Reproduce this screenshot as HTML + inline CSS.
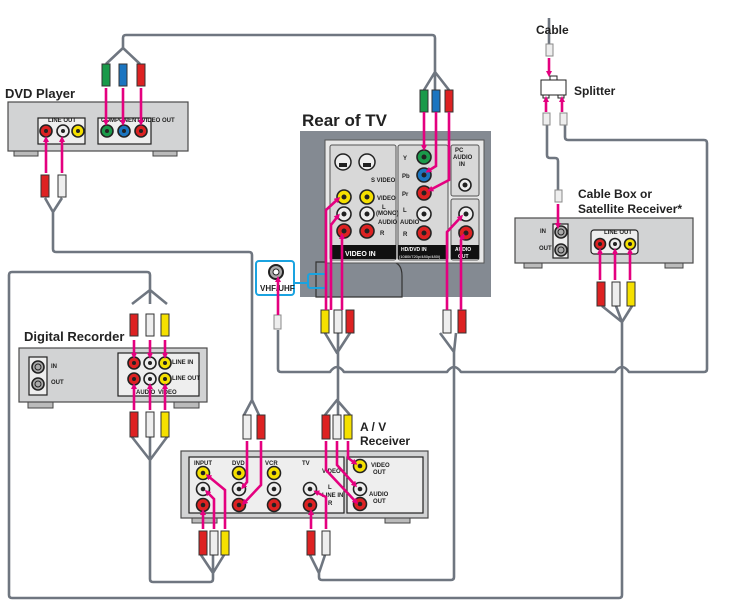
<!DOCTYPE html>
<html><head><meta charset="utf-8"><style>
body{margin:0;background:#fff}
svg{display:block}
text{font-family:"Liberation Sans",sans-serif}
.c{fill:none;stroke:#6f7680;stroke-width:2.6;stroke-linejoin:round}
.m{stroke:#e4007f;stroke-width:2.6;fill:none}
.box{fill:#d2d3d4;stroke:#4a4a4a;stroke-width:1.2}
.pn{fill:#eeeeee;stroke:#222;stroke-width:1.2}
.t{font-weight:bold;fill:#222}
.s{font-size:6px;font-weight:bold;fill:#222}
</style></head><body>
<svg width="743" height="613" viewBox="0 0 743 613" xmlns="http://www.w3.org/2000/svg">
<defs>
<marker id="a" markerWidth="6" markerHeight="6" refX="3" refY="3" orient="auto" markerUnits="userSpaceOnUse"><path d="M0,0 L6,3 L0,6z" fill="#e4007f"/></marker>
</defs>

<path class="c" d="M106,64 L123,48 L140,64 M123,48 V38 Q123,35 126,35 H432 Q435,35 435,38 V72 M424,90 L435,72 L449,90 M435,72 V90"/>
<path class="c" d="M45,198 L53,212 L62,198 M53,212 V249 Q53,252 56,252 H249 Q252,252 252,255 V400 M244,415 L252,400 L259,415"/>
<path class="c" d="M132,304 L150,290 L167,304 M150,290 V275 Q150,272 147,272 H12 Q9,272 9,275 V595 Q9,598 12,598 H619 Q622,598 622,595 V322 M602,306 L622,322 L632,306 M616,306 L622,322"/>
<path class="c" d="M150,304 V290"/>
<path class="c" d="M132,437 L150,460 L167,437 M150,437 V460 V579 Q150,582 153,582 H210 Q213,582 213,579 V573 M201,555 L213,573 L224,555 M213,555 V573"/>
<path class="c" d="M440,333 L454,352 L456,333 M454,352 V577 Q454,580 451,580 H322 Q319,580 319,577 V573 M310,555 L319,573 L325,555"/>
<path class="c" d="M325,333 L337,353 L350,333 M338,333 V400 M325,415 L337,400 L350,415 M338,415 V400"/>
<path class="c" d="M278,330 V369 Q278,372 281,372 H330 Q337,362 344,372 H447 Q454,362 461,372 H615 Q622,362 629,372 H704 Q707,372 707,369 V143 Q707,140 704,140 H568 Q565,140 565,137 V125"/>
<path class="c" d="M547,125 V155 Q547,158 550,158 H555 Q558,158 558,161 V190"/>
<path class="c" d="M549,18 V45"/>

<text class="t" x="5" y="98" font-size="13">DVD Player</text>
<rect x="14" y="150" width="24" height="6" fill="#bbb" stroke="#444"/>
<rect x="153" y="150" width="24" height="6" fill="#bbb" stroke="#444"/>
<rect class="box" x="8" y="102" width="180" height="49"/>
<rect class="pn" x="38" y="118" width="47" height="26"/>
<rect class="pn" x="98" y="118" width="53" height="26"/>
<text class="s" x="48" y="122" font-size="4">LINE OUT</text>
<text class="s" x="101" y="122" font-size="4">COMPONENT VIDEO OUT</text>

<text class="t" x="302" y="126" font-size="17">Rear of TV</text>
<rect x="300" y="131" width="191" height="166" fill="#848a92"/>
<path d="M316,262 H391 Q402,262 402,276 V297 H316z" fill="none" stroke="#333" stroke-width="1.2"/>
<rect x="325" y="140" width="159" height="123" fill="#e8e8e8" stroke="#555"/>
<rect x="330" y="145" width="66" height="115" rx="2" fill="#d8d8d8" stroke="#555"/>
<rect x="398" y="145" width="50" height="115" rx="2" fill="#d8d8d8" stroke="#555"/>
<rect x="451" y="145" width="28" height="51" rx="2" fill="#d8d8d8" stroke="#555"/>
<rect x="451" y="199" width="28" height="61" rx="2" fill="#d8d8d8" stroke="#555"/>
<rect x="330" y="245" width="66" height="14" fill="#111"/>
<text x="345" y="256" font-size="7" font-weight="bold" fill="#fff">VIDEO IN</text>
<rect x="398" y="245" width="50" height="14" fill="#111"/>
<text x="401" y="251" font-size="5" font-weight="bold" fill="#fff">HD/DVD IN</text>
<text x="399" y="258" font-size="4" fill="#fff">(1080i/720p/480p/480i)</text>
<rect x="451" y="245" width="28" height="14" fill="#111"/>
<text x="455" y="251" font-size="5" font-weight="bold" fill="#fff">AUDIO</text>
<text x="458" y="258" font-size="5" font-weight="bold" fill="#fff">OUT</text>
<text x="455" y="152" font-size="6" font-weight="bold" fill="#222">PC</text>
<text x="453" y="159" font-size="6" font-weight="bold" fill="#222">AUDIO</text>
<text x="459" y="166" font-size="6" font-weight="bold" fill="#222">IN</text>
<text class="s" x="371" y="182">S VIDEO</text>
<text class="s" x="377" y="200">VIDEO</text>
<text class="s" x="382" y="209">L</text>
<text class="s" x="376" y="215">(MONO)</text>
<text class="s" x="378" y="224">AUDIO</text>
<text class="s" x="380" y="235">R</text>
<text class="s" x="403" y="160">Y</text>
<text class="s" x="402" y="178">Pb</text>
<text class="s" x="402" y="196">Pr</text>
<text class="s" x="403" y="212">L</text>
<text class="s" x="400" y="224">AUDIO</text>
<text class="s" x="403" y="236">R</text>
<text class="s" x="458" y="216">L</text>
<text class="s" x="458" y="234">R</text>
<g stroke="#222" stroke-width="1.5" fill="#eee">
<circle cx="343" cy="162" r="8"/><circle cx="367" cy="162" r="8"/>
</g>
<rect x="339" y="163" width="8" height="4" fill="#222"/><rect x="363" y="163" width="8" height="4" fill="#222"/>

<rect x="256" y="261" width="38" height="34" rx="3" fill="#fff" stroke="#1aa3e0" stroke-width="2"/>
<rect x="308" y="274" width="18" height="14" rx="2" fill="none" stroke="#1aa3e0" stroke-width="2"/>
<path d="M294,283 H308" stroke="#1aa3e0" stroke-width="2"/>
<circle cx="276" cy="272" r="7" fill="#aaa" stroke="#222" stroke-width="2"/><circle cx="276" cy="272" r="3" fill="#fff" stroke="#222"/>
<text x="260" y="291" font-size="8" font-weight="bold" fill="#222">VHF/UHF</text>

<text class="t" x="536" y="34" font-size="12">Cable</text>
<rect x="541" y="80" width="25" height="15" fill="#fff" stroke="#222"/>
<rect x="550" y="76" width="7" height="4" fill="#fff" stroke="#222"/>
<rect x="543" y="95" width="6" height="3" fill="#fff" stroke="#222"/>
<rect x="558" y="95" width="6" height="3" fill="#fff" stroke="#222"/>
<text class="t" x="574" y="95" font-size="12">Splitter</text>
<g fill="#eee" stroke="#888"><rect x="546" y="44" width="7" height="12"/><rect x="543" y="113" width="7" height="12"/><rect x="560" y="113" width="7" height="12"/><rect x="555" y="190" width="7" height="12"/><rect x="274" y="315" width="7" height="14"/></g>
<text class="t" x="578" y="198" font-size="12">Cable Box or</text>
<text class="t" x="578" y="213" font-size="12">Satellite Receiver*</text>
<rect x="524" y="262" width="18" height="6" fill="#bbb" stroke="#444"/>
<rect x="665" y="262" width="18" height="6" fill="#bbb" stroke="#444"/>
<rect class="box" x="515" y="218" width="178" height="45"/>
<rect class="pn" x="553" y="224" width="15" height="34" fill="#eee"/>
<rect class="pn" x="591" y="230" width="47" height="24" rx="3"/>
<text class="s" x="540" y="233" font-size="4">IN</text><text class="s" x="539" y="250" font-size="4">OUT</text>
<text class="s" x="604" y="234" font-size="4">LINE OUT</text>

<text class="t" x="24" y="341" font-size="13">Digital Recorder</text>
<rect x="28" y="402" width="25" height="6" fill="#bbb" stroke="#444"/>
<rect x="174" y="402" width="25" height="6" fill="#bbb" stroke="#444"/>
<rect class="box" x="19" y="348" width="188" height="54"/>
<rect class="pn" x="29" y="357" width="18" height="38" fill="#eee"/>
<rect class="pn" x="118" y="353" width="81" height="43"/>
<text class="s" x="51" y="368" font-size="4">IN</text><text class="s" x="51" y="384" font-size="4">OUT</text>
<text class="s" x="172" y="364" font-size="4">LINE IN</text><text class="s" x="172" y="380" font-size="4">LINE OUT</text>
<text class="s" x="136" y="394" font-size="4">AUDIO</text><text class="s" x="158" y="394" font-size="4">VIDEO</text>

<text class="t" x="360" y="431" font-size="12">A / V</text>
<text class="t" x="360" y="445" font-size="12">Receiver</text>
<rect x="192" y="517" width="25" height="6" fill="#bbb" stroke="#444"/>
<rect x="385" y="517" width="25" height="6" fill="#bbb" stroke="#444"/>
<rect class="box" x="181" y="451" width="247" height="67"/>
<rect class="pn" x="189" y="457" width="155" height="56"/>
<rect class="pn" x="347" y="457" width="76" height="56"/>
<text class="s" x="194" y="465">INPUT</text><text class="s" x="232" y="465">DVD</text><text class="s" x="265" y="465">VCR</text><text class="s" x="302" y="465">TV</text>
<text class="s" x="322" y="473">VIDEO</text><text class="s" x="328" y="489">L</text><text class="s" x="322" y="497" font-size="4">LINE IN</text><text class="s" x="328" y="505">R</text>
<text class="s" x="371" y="467">VIDEO</text><text class="s" x="373" y="474">OUT</text>
<text class="s" x="369" y="496">AUDIO</text><text class="s" x="373" y="503">OUT</text>

<g stroke="#222" stroke-width="1.6">
<circle cx="46" cy="131" r="6" fill="#d22"/><circle cx="63" cy="131" r="6" fill="#eee"/><circle cx="78" cy="131" r="6" fill="#f5e000"/>
<circle cx="107" cy="131" r="6" fill="#1a9a4a"/><circle cx="124" cy="131" r="6" fill="#1b75c0"/><circle cx="141" cy="131" r="6" fill="#d22"/>
<circle cx="344" cy="197" r="7" fill="#f5e000"/><circle cx="344" cy="214" r="7" fill="#eee"/><circle cx="344" cy="231" r="7" fill="#d22"/>
<circle cx="367" cy="197" r="7" fill="#f5e000"/><circle cx="367" cy="214" r="7" fill="#eee"/><circle cx="367" cy="231" r="7" fill="#d22"/>
<circle cx="424" cy="157" r="7" fill="#1a9a4a"/><circle cx="424" cy="175" r="7" fill="#1b75c0"/><circle cx="424" cy="193" r="7" fill="#d22"/>
<circle cx="424" cy="214" r="7" fill="#eee"/><circle cx="424" cy="233" r="7" fill="#d22"/>
<circle cx="465" cy="185" r="6" fill="#eee"/><circle cx="466" cy="214" r="7" fill="#eee"/><circle cx="466" cy="233" r="7" fill="#d22"/>
<circle cx="561" cy="232" r="6" fill="#aaa"/><circle cx="561" cy="250" r="6" fill="#aaa"/>
<circle cx="600" cy="244" r="5.5" fill="#d22"/><circle cx="615" cy="244" r="5.5" fill="#eee"/><circle cx="630" cy="244" r="5.5" fill="#f5e000"/>
<circle cx="38" cy="367" r="6" fill="#aaa"/><circle cx="38" cy="384" r="6" fill="#aaa"/>
<circle cx="134" cy="363" r="6" fill="#d22"/><circle cx="150" cy="363" r="6" fill="#eee"/><circle cx="165" cy="363" r="6" fill="#f5e000"/>
<circle cx="134" cy="379" r="6" fill="#d22"/><circle cx="150" cy="379" r="6" fill="#eee"/><circle cx="165" cy="379" r="6" fill="#f5e000"/>
<circle cx="203" cy="473" r="6.5" fill="#f5e000"/><circle cx="203" cy="489" r="6.5" fill="#eee"/><circle cx="203" cy="505" r="6.5" fill="#d22"/>
<circle cx="239" cy="473" r="6.5" fill="#f5e000"/><circle cx="239" cy="489" r="6.5" fill="#eee"/><circle cx="239" cy="505" r="6.5" fill="#d22"/>
<circle cx="274" cy="473" r="6.5" fill="#f5e000"/><circle cx="274" cy="489" r="6.5" fill="#eee"/><circle cx="274" cy="505" r="6.5" fill="#d22"/>
<circle cx="310" cy="489" r="6.5" fill="#eee"/><circle cx="310" cy="505" r="6.5" fill="#d22"/>
<circle cx="360" cy="466" r="6.5" fill="#f5e000"/><circle cx="360" cy="489" r="6.5" fill="#eee"/><circle cx="360" cy="504" r="6.5" fill="#d22"/>
</g>
<g fill="#222">
<circle cx="46" cy="131" r="2"/><circle cx="63" cy="131" r="2"/><circle cx="78" cy="131" r="2"/><circle cx="107" cy="131" r="2"/><circle cx="124" cy="131" r="2"/><circle cx="141" cy="131" r="2"/>
<circle cx="344" cy="197" r="2.5"/><circle cx="344" cy="214" r="2.5"/><circle cx="344" cy="231" r="2.5"/><circle cx="367" cy="197" r="2.5"/><circle cx="367" cy="214" r="2.5"/><circle cx="367" cy="231" r="2.5"/>
<circle cx="424" cy="157" r="2.5"/><circle cx="424" cy="175" r="2.5"/><circle cx="424" cy="193" r="2.5"/><circle cx="424" cy="214" r="2.5"/><circle cx="424" cy="233" r="2.5"/><circle cx="465" cy="185" r="2.5"/><circle cx="466" cy="214" r="2.5"/><circle cx="466" cy="233" r="2.5"/>
<circle cx="203" cy="473" r="2.3"/><circle cx="203" cy="489" r="2.3"/><circle cx="203" cy="505" r="2.3"/><circle cx="239" cy="473" r="2.3"/><circle cx="239" cy="489" r="2.3"/><circle cx="239" cy="505" r="2.3"/><circle cx="274" cy="473" r="2.3"/><circle cx="274" cy="489" r="2.3"/><circle cx="274" cy="505" r="2.3"/><circle cx="310" cy="489" r="2.3"/><circle cx="310" cy="505" r="2.3"/><circle cx="360" cy="466" r="2.3"/><circle cx="360" cy="489" r="2.3"/><circle cx="360" cy="504" r="2.3"/>
<circle cx="134" cy="363" r="2"/><circle cx="150" cy="363" r="2"/><circle cx="165" cy="363" r="2"/><circle cx="134" cy="379" r="2"/><circle cx="150" cy="379" r="2"/><circle cx="165" cy="379" r="2"/>
<circle cx="600" cy="244" r="2"/><circle cx="615" cy="244" r="2"/><circle cx="630" cy="244" r="2"/>
</g>
<g fill="none" stroke="#222" stroke-width="1"><circle cx="38" cy="367" r="3"/><circle cx="38" cy="384" r="3"/><circle cx="561" cy="232" r="3"/><circle cx="561" cy="250" r="3"/></g>

<g stroke="#333" stroke-width="1">
<rect x="102" y="64" width="8" height="22" fill="#1a9a4a"/><rect x="119" y="64" width="8" height="22" fill="#1b75c0"/><rect x="137" y="64" width="8" height="22" fill="#d22"/>
<rect x="420" y="90" width="8" height="22" fill="#1a9a4a"/><rect x="432" y="90" width="8" height="22" fill="#1b75c0"/><rect x="445" y="90" width="8" height="22" fill="#d22"/>
<rect x="41" y="175" width="8" height="22" fill="#d22"/><rect x="58" y="175" width="8" height="22" fill="#eee"/>
<rect x="321" y="310" width="8" height="23" fill="#f5e000"/><rect x="334" y="310" width="8" height="23" fill="#eee"/><rect x="346" y="310" width="8" height="23" fill="#d22"/>
<rect x="443" y="310" width="8" height="23" fill="#eee"/><rect x="458" y="310" width="8" height="23" fill="#d22"/>
<rect x="597" y="282" width="8" height="24" fill="#d22"/><rect x="612" y="282" width="8" height="24" fill="#eee"/><rect x="627" y="282" width="8" height="24" fill="#f5e000"/>
<rect x="130" y="314" width="8" height="22" fill="#d22"/><rect x="146" y="314" width="8" height="22" fill="#eee"/><rect x="161" y="314" width="8" height="22" fill="#f5e000"/>
<rect x="130" y="412" width="8" height="25" fill="#d22"/><rect x="146" y="412" width="8" height="25" fill="#eee"/><rect x="161" y="412" width="8" height="25" fill="#f5e000"/>
<rect x="243" y="415" width="8" height="24" fill="#eee"/><rect x="257" y="415" width="8" height="24" fill="#d22"/>
<rect x="322" y="415" width="8" height="24" fill="#d22"/><rect x="333" y="415" width="8" height="24" fill="#eee"/><rect x="344" y="415" width="8" height="24" fill="#f5e000"/>
<rect x="199" y="531" width="8" height="24" fill="#d22"/><rect x="210" y="531" width="8" height="24" fill="#eee"/><rect x="221" y="531" width="8" height="24" fill="#f5e000"/>
<rect x="307" y="531" width="8" height="24" fill="#d22"/><rect x="322" y="531" width="8" height="24" fill="#eee"/>
</g>

<g class="m" marker-end="url(#a)">
<path d="M106,88 V123"/><path d="M123,88 V123"/><path d="M141,88 V123"/>
<path d="M46,173 V139"/><path d="M62,173 V139"/>
<path d="M424,112 V148"/><path d="M436,112 V166 L428,171"/><path d="M449,112 V180 L430,190"/>
<path d="M326,310 V210 L338,199"/><path d="M331,310 V225 L338,216"/><path d="M342,310 V236"/>
<path d="M447,310 V232 L461,217"/><path d="M461,310 V240 L463,236"/>
<path d="M549,58 V74"/><path d="M546,112 V99"/><path d="M562,112 V99"/><path d="M558,204 V226"/>
<path d="M600,280 V251"/><path d="M615,280 V251"/><path d="M630,280 V251"/>
<path d="M134,340 V356"/><path d="M150,340 V356"/><path d="M165,340 V356"/>
<path d="M134,410 V386"/><path d="M150,410 V386"/><path d="M165,410 V386"/>
<path d="M278,315 V279"/>
<path d="M247,441 V482 L243,487"/><path d="M261,441 V485 L244,503"/>
<path d="M326,441 V470 L356,502"/><path d="M337,441 V465 L355,485"/><path d="M348,441 V458 L355,463"/>
<path d="M203,529 V512"/><path d="M214,529 V499 L207,492"/><path d="M225,529 V490 L208,476"/>
<path d="M311,529 V512"/><path d="M326,529 V497 L316,492"/>
</g>
</svg>
</body></html>
